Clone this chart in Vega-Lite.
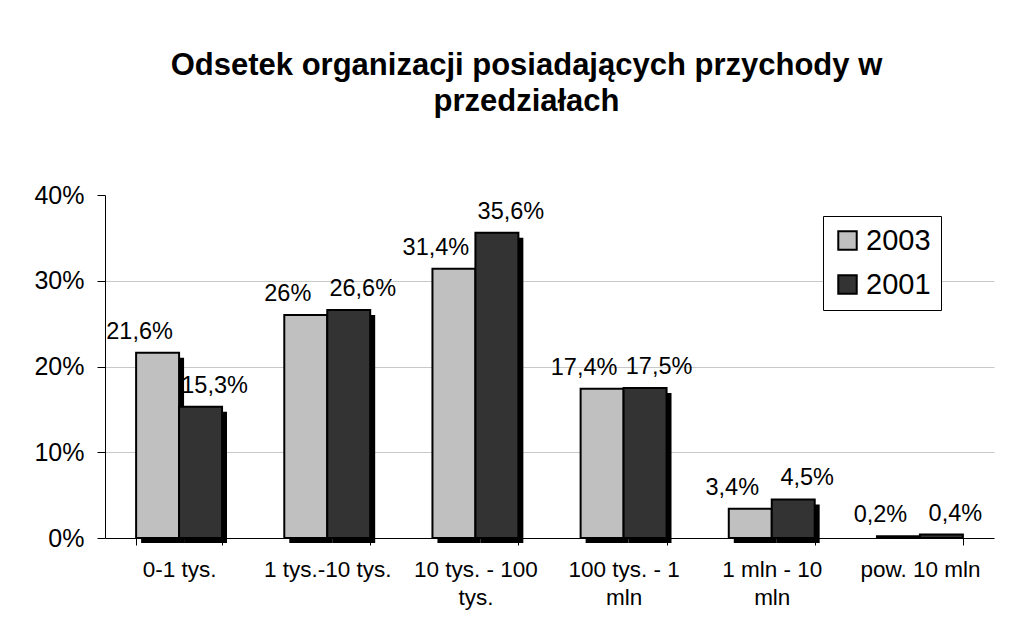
{
  "$schema": "https://vega.github.io/schema/vega-lite/v6.json",
  "width": 889,
  "height": 343,
  "autosize": {"type": "none"},
  "padding": {"left": 105, "top": 195, "right": 41, "bottom": 92},
  "background": "white",
  "config": {
    "locale": {"number": {"decimal": ",", "thousands": " ", "grouping": [3], "currency": ["", " zł"]}},
    "font": "Liberation Sans",
    "view": {"stroke": null}
  },
  "title": {
    "text": ["Odsetek organizacji posiadających przychody w", "przedziałach"],
    "fontSize": 31,
    "fontWeight": "bold",
    "font": "Liberation Sans",
    "anchor": "middle",
    "frame": "group",
    "dx": -23,
    "offset": 65,
    "lineHeight": 36,
    "color": "black"
  },
  "data": {
    "values": [
      {"kategoria": "0-1 tys.", "rok": "2003", "wartosc": 0.216},
      {"kategoria": "0-1 tys.", "rok": "2001", "wartosc": 0.153},
      {"kategoria": "1 tys.-10 tys.", "rok": "2003", "wartosc": 0.26},
      {"kategoria": "1 tys.-10 tys.", "rok": "2001", "wartosc": 0.266},
      {"kategoria": "10 tys. - 100 tys.", "rok": "2003", "wartosc": 0.314},
      {"kategoria": "10 tys. - 100 tys.", "rok": "2001", "wartosc": 0.356},
      {"kategoria": "100 tys. - 1 mln", "rok": "2003", "wartosc": 0.174},
      {"kategoria": "100 tys. - 1 mln", "rok": "2001", "wartosc": 0.175},
      {"kategoria": "1 mln - 10 mln", "rok": "2003", "wartosc": 0.034},
      {"kategoria": "1 mln - 10 mln", "rok": "2001", "wartosc": 0.045},
      {"kategoria": "pow. 10 mln", "rok": "2003", "wartosc": 0.002},
      {"kategoria": "pow. 10 mln", "rok": "2001", "wartosc": 0.004}
    ]
  },
  "encoding": {
    "x": {
      "field": "kategoria",
      "type": "nominal",
      "sort": null,
      "scale": {"paddingInner": 0.42, "paddingOuter": 0.21},
      "axis": {
        "title": null,
        "labelAngle": 0,
        "labelFontSize": 22.5,
        "labelColor": "black",
        "labelPadding": 13,
        "labelLineHeight": 28,
        "domainColor": "black",
        "domainWidth": 1,
        "tickColor": "black",
        "tickBand": "extent",
        "tickSize": 7,
        "labelExpr": "datum.label == '10 tys. - 100 tys.' ? ['10 tys. - 100', 'tys.'] : datum.label == '100 tys. - 1 mln' ? ['100 tys. - 1', 'mln'] : datum.label == '1 mln - 10 mln' ? ['1 mln - 10', 'mln'] : datum.label"
      }
    },
    "y": {
      "field": "wartosc",
      "type": "quantitative",
      "scale": {"domain": [0, 0.4]},
      "axis": {
        "title": null,
        "format": ".0%",
        "values": [0, 0.1, 0.2, 0.3, 0.4],
        "labelFontSize": 25,
        "labelColor": "black",
        "labelPadding": 13,
        "tickSize": 8,
        "tickColor": "black",
        "domainColor": "black",
        "gridColor": "#c8c8c8",
        "gridOpacity": {"condition": {"test": "datum.value >= 0.4 || datum.value <= 0", "value": 0}, "value": 1}
      }
    }
  },
  "layer": [
    {
      "transform": [{"filter": "datum.wartosc > 0.01"}],
      "mark": {"type": "bar", "color": "black", "yOffset": 5, "y2Offset": -5},
      "encoding": {
        "xOffset": {"field": "rok", "sort": ["2003", "2001"], "scale": {"domain": ["2003", "2001"], "range": [5, 90.9], "paddingInner": 0, "paddingOuter": 0}}
      }
    },
    {
      "mark": {"type": "bar", "stroke": "black", "strokeWidth": 2},
      "encoding": {
        "xOffset": {"field": "rok", "sort": ["2003", "2001"], "scale": {"domain": ["2003", "2001"], "paddingInner": 0, "paddingOuter": 0}},
        "color": {
          "field": "rok",
          "type": "nominal",
          "sort": ["2003", "2001"],
          "scale": {"domain": ["2003", "2001"], "range": ["#c0c0c0", "#333333"]},
          "legend": {
            "orient": "none",
            "legendX": 718,
            "legendY": 21,
            "title": null,
            "labelFontSize": 29,
            "labelColor": "black",
            "symbolType": "square",
            "symbolSize": 340,
            "symbolStrokeColor": "black",
            "symbolStrokeWidth": 2,
            "symbolOpacity": 1,
            "strokeColor": "black",
            "fillColor": "white",
            "padding": 10,
            "rowPadding": 14
          }
        }
      }
    },
    {
      "transform": [{"filter": "datum.rok == '2003'"}],
      "mark": {"type": "text", "dx": -18, "dy": -9, "baseline": "bottom", "fontSize": 23.5, "color": "black"},
      "encoding": {
        "xOffset": {"field": "rok", "sort": ["2003", "2001"], "scale": {"domain": ["2003", "2001"]}},
        "text": {"field": "wartosc", "type": "quantitative", "format": ".1~%"}
      }
    },
    {
      "transform": [{"filter": "datum.rok == '2001'"}],
      "mark": {"type": "text", "dx": 14, "dy": -9, "baseline": "bottom", "fontSize": 23.5, "color": "black"},
      "encoding": {
        "xOffset": {"field": "rok", "sort": ["2003", "2001"], "scale": {"domain": ["2003", "2001"]}},
        "text": {"field": "wartosc", "type": "quantitative", "format": ".1~%"}
      }
    }
  ],
  "resolve": {"scale": {"xOffset": "independent"}}
}
